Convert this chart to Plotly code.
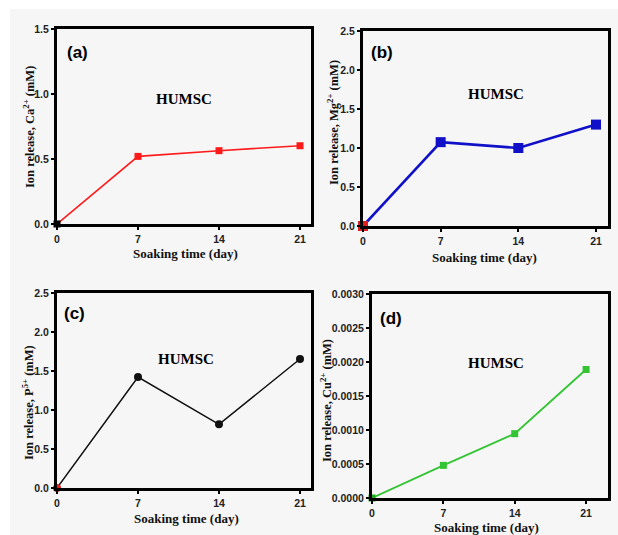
import plotly.graph_objects as go

W, H = 618, 535

days = [0, 7, 14, 21]
day_ticks = [0, 7, 14, 21]

ca_values = [0.0, 0.52, 0.564, 0.602]
mg_values = [0.0, 1.075, 1.0, 1.30]
p_values = [0.0, 1.423, 0.816, 1.654]
cu_values = [0.0, 0.00048, 0.000946, 0.00189]

ca_yticks = [0.0, 0.5, 1.0, 1.5]
mg_yticks = [0.0, 0.5, 1.0, 1.5, 2.0, 2.5]
p_yticks = [0.0, 0.5, 1.0, 1.5, 2.0, 2.5]
cu_yticks = [0.0, 0.0005, 0.0010, 0.0015, 0.0020, 0.0025, 0.0030]

panel_labels = ["(a)", "(b)", "(c)", "(d)"]
sample_label = "HUMSC"
x_title = "Soaking time (day)"
y_titles = [
    "Ion release, Ca<sup>2+</sup> (mM)",
    "Ion release, Mg<sup>2+</sup> (mM)",
    "Ion release, P<sup>5+</sup> (mM)",
    "Ion release, Cu<sup>2+</sup> (mM)",
]


def px(x):
    return x / W


def py(y):
    return 1 - y / H


fig = go.Figure()

panels = [
    dict(l=57, r=311, t=29, b=224, xmax=21.95, ymax=1.5, yt=ca_yticks, fmt=".1f",
         vals=ca_values, color="#ff1a1a", first="#000000", sym="square", ms=7, lw=1.6),
    dict(l=363, r=608, t=31, b=226, xmax=22.08, ymax=2.5, yt=mg_yticks, fmt=".1f",
         vals=mg_values, color="#1010c8", first="#e02020", sym="square", ms=10, lw=2.6),
    dict(l=57, r=311, t=293, b=488, xmax=21.95, ymax=2.5, yt=p_yticks, fmt=".1f",
         vals=p_values, color="#111111", first="#e02020", sym="circle", ms=8, lw=1.5),
    dict(l=372, r=608, t=294, b=498, xmax=23.15, ymax=0.003, yt=cu_yticks, fmt=".4f",
         vals=cu_values, color="#33c433", first="#22aa22", sym="square", ms=7, lw=1.8),
]

tick_font = dict(family="Liberation Sans, Arial", size=10.5, color="#222222", weight="bold")

for i, p in enumerate(panels):
    n = i + 1
    xa = "x" if n == 1 else f"x{n}"
    ya = "y" if n == 1 else f"y{n}"
    colors = [p["first"]] + [p["color"]] * (len(days) - 1)
    fig.add_trace(go.Scatter(
        x=days, y=p["vals"], xaxis=xa, yaxis=ya, mode="lines+markers",
        line=dict(color=p["color"], width=p["lw"]),
        marker=dict(symbol=p["sym"], size=p["ms"], color=colors,
                    line=dict(width=0)),
        cliponaxis=False, showlegend=False,
    ))
    axis_common = dict(
        showline=True, linecolor="black", linewidth=3, mirror=True,
        ticks="outside", ticklen=3, tickwidth=1.5, tickcolor="black",
        showgrid=False, zeroline=False, tickfont=tick_font, automargin=False,
    )
    fig.layout[f"xaxis{n if n > 1 else ''}"] = dict(
        domain=[px(p["l"]), px(p["r"])], range=[0, p["xmax"]],
        tickvals=day_ticks, anchor=ya, **axis_common)
    fig.layout[f"yaxis{n if n > 1 else ''}"] = dict(
        domain=[py(p["b"]), py(p["t"])], range=[0, p["ymax"]],
        tickvals=p["yt"], tickformat=p["fmt"], anchor=xa, **axis_common)

serif = "Liberation Serif, Times New Roman, serif"
ann = []
label_pos = [(77, 53), (382, 53), (74, 313), (391, 318)]
sample_pos = [(184, 99), (496, 94), (186, 359), (496, 363)]
ytitle_pos = [(29, 127), (333, 123), (28, 403), (326, 400)]
xtitle_pos = [(185, 254), (485, 257), (186, 518), (486, 527)]
for i in range(4):
    common = dict(xref="paper", yref="paper", showarrow=False,
                  xanchor="center", yanchor="middle")
    ann.append(dict(x=px(label_pos[i][0]), y=py(label_pos[i][1]),
                    text=panel_labels[i], **common,
                    font=dict(family="Liberation Sans, Arial", size=17, color="black", weight="bold")))
    ann.append(dict(x=px(sample_pos[i][0]), y=py(sample_pos[i][1]),
                    text=sample_label, **common,
                    font=dict(family=serif, size=15, color="black", weight="bold")))
    ann.append(dict(x=px(ytitle_pos[i][0]), y=py(ytitle_pos[i][1]),
                    text=y_titles[i], textangle=-90, **common,
                    font=dict(family=serif, size=12.5, color="#111111", weight="bold")))
    ann.append(dict(x=px(xtitle_pos[i][0]), y=py(xtitle_pos[i][1]),
                    text=x_title, **common,
                    font=dict(family=serif, size=13, color="#111111", weight="bold")))

fig.update_layout(
    width=W, height=H, margin=dict(l=0, r=0, t=0, b=0, pad=0, autoexpand=False),
    paper_bgcolor="white", plot_bgcolor="#f6f6f6",
    annotations=ann,
    shapes=[dict(type="rect", xref="paper", yref="paper", x0=px(10), x1=1, y0=0, y1=py(9),
                 fillcolor="#f6f6f6", line=dict(width=0), layer="below")],
)

fig.write_html(
    "out.html",
    config={"displayModeBar": False},
    post_script="document.body.style.margin='0';document.body.style.overflow='hidden';",
)
